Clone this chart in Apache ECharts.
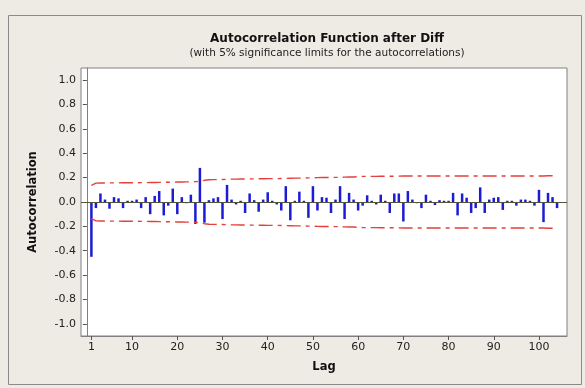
<!DOCTYPE html>
<html><head><meta charset="utf-8">
<script src="https://cdn.jsdelivr.net/npm/echarts@6/dist/echarts.min.js"></script>
<style>html,body{margin:0;padding:0;background:#eeebe5;}#c{width:585px;height:388px;}</style>
</head><body><div id="c"></div>
<script>
const lags = [];
for (let i = 1; i <= 104; i++) lags.push(i);
const acf = [
 -0.45,-0.05,0.07,0.02,-0.055,0.04,0.03,-0.05,0.01,0.01,
 0.02,-0.05,0.04,-0.10,0.05,0.09,-0.11,-0.03,0.11,-0.10,
 0.04,-0.01,0.06,-0.18,0.28,-0.17,0.015,0.03,0.04,-0.14,
 0.14,0.02,-0.02,0.01,-0.09,0.07,0.015,-0.08,0.02,0.08,
 0.01,-0.02,-0.07,0.13,-0.15,0.01,0.085,0.01,-0.13,0.13,
 -0.07,0.04,0.035,-0.09,0.02,0.13,-0.14,0.075,0.02,-0.07,
 -0.03,0.055,0.01,-0.02,0.06,0.01,-0.09,0.07,0.07,-0.16,
 0.09,0.02,-0.01,-0.05,0.06,0.01,-0.025,0.015,0.01,0.01,
 0.075,-0.11,0.07,0.035,-0.09,-0.05,0.12,-0.09,0.02,0.035,
 0.04,-0.065,0.01,0.01,-0.03,0.02,0.02,0.01,-0.03,0.10,
 -0.165,0.075,0.04,-0.05
];
const upperLimit = [
 0.137,0.155,0.156,0.156,0.157,0.157,0.157,0.158,0.158,0.158,
 0.158,0.159,0.159,0.160,0.160,0.161,0.162,0.162,0.163,0.164,
 0.164,0.165,0.165,0.167,0.170,0.178,0.183,0.184,0.184,0.185,
 0.186,0.188,0.188,0.189,0.189,0.190,0.190,0.191,0.191,0.192,
 0.192,0.192,0.193,0.194,0.195,0.196,0.196,0.197,0.198,0.199,
 0.200,0.201,0.201,0.201,0.202,0.203,0.204,0.205,0.205,0.209,
 0.210,0.210,0.210,0.210,0.211,0.211,0.211,0.211,0.212,0.213,
 0.213,0.213,0.213,0.213,0.213,0.213,0.213,0.213,0.213,0.213,
 0.213,0.214,0.214,0.214,0.214,0.214,0.214,0.214,0.214,0.214,
 0.214,0.214,0.214,0.214,0.214,0.214,0.214,0.214,0.214,0.214,
 0.214,0.215,0.215,0.215
];
const lowerLimit = upperLimit.map(v => -v);
const xTicks = [1,10,20,30,40,50,60,70,80,90,100];
const yTicks = [-1.0,-0.8,-0.6,-0.4,-0.2,0.0,0.2,0.4,0.6,0.8,1.0];
const titleText = 'Autocorrelation Function after Diff';
const subtitleText = '(with 5% significance limits for the autocorrelations)';

const font = 'DejaVu Sans';
const chart = echarts.init(document.getElementById('c'), null, {renderer:'canvas'});
const dash = {color:'#e4403c', width:1.4, type:[14,5,4,5]};
chart.setOption({
  animation:false,
  backgroundColor:'#eeebe5',
  graphic:[{type:'rect', shape:{x:8.5,y:15.5,width:573,height:369}, style:{fill:'none',stroke:'#8a8a8a',lineWidth:1}, z:-1}],
  title:{text:titleText, subtext:subtitleText, left:322, textAlign:'center', top:28,
    itemGap:3,
    textStyle:{fontFamily:font, fontSize:12, fontWeight:'bold', color:'#111'},
    subtextStyle:{fontFamily:font, fontSize:10.5, color:'#222'}},
  grid:{left:81, right:18, top:68, bottom:52, show:true, backgroundColor:'#fff', borderColor:'#808080', borderWidth:1},
  xAxis:{type:'value', min:-1.3, max:106.2, name:'Lag', nameLocation:'middle', nameGap:25,
    nameTextStyle:{fontFamily:font, fontSize:11.5, fontWeight:'bold', color:'#111'},
    axisLine:{show:true, onZero:false, lineStyle:{color:'#808080'}},
    axisTick:{show:true, inside:false, length:4, customValues:xTicks, lineStyle:{color:'#555'}},
    axisLabel:{customValues:xTicks, fontFamily:font, fontSize:11, color:'#222', margin:6},
    splitLine:{show:false}},
  yAxis:{type:'value', min:-1.1, max:1.1, name:'Autocorrelation', nameLocation:'middle', nameGap:42,
    nameTextStyle:{fontFamily:font, fontSize:11.5, fontWeight:'bold', color:'#111'},
    axisLine:{show:true, lineStyle:{color:'#808080'}},
    axisTick:{show:true, inside:false, length:4, customValues:yTicks, lineStyle:{color:'#555'}},
    axisLabel:{customValues:yTicks, fontFamily:font, fontSize:11, color:'#222', margin:5,
      formatter:v=>v.toFixed(1)},
    splitLine:{show:false}},
  series:[
    {type:'bar', data:lags.map((l,i)=>[l,acf[i]]), barWidth:2.5, itemStyle:{color:'#1c1cd2'},
     markLine:{silent:true, symbol:'none', label:{show:false}, lineStyle:{color:'#55553a', width:1, type:'solid'},
       data:[{yAxis:0}]}},
    {type:'line', data:lags.map((l,i)=>[l,upperLimit[i]]), symbol:'none', lineStyle:dash, z:3},
    {type:'line', data:lags.map((l,i)=>[l,lowerLimit[i]]), symbol:'none', lineStyle:dash, z:3}
  ]
});
</script></body></html>
